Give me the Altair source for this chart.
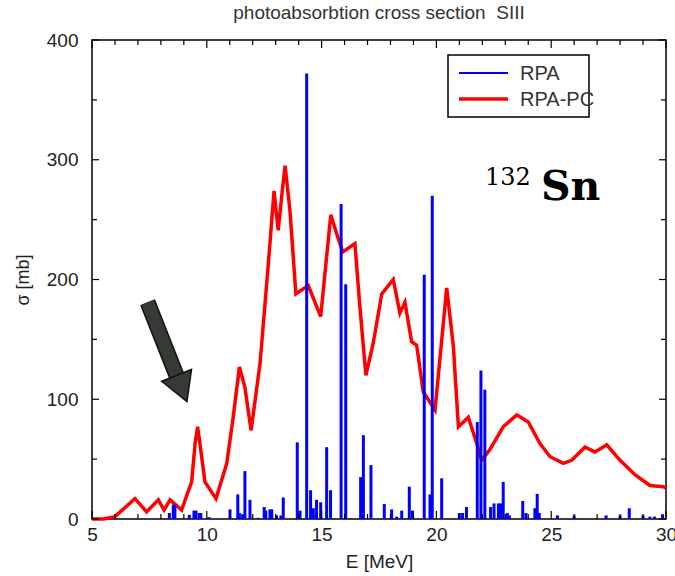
import altair as alt
import pandas as pd

# ---------------- data ----------------
# RPA-PC (red curve): energy [MeV] and cross section [mb]
E_PC = [5.0, 5.5, 6.0, 6.87, 7.38, 7.89, 8.14, 8.40, 8.90, 9.34, 9.49, 9.60, 9.70, 9.92,
        10.40, 10.87, 11.15, 11.42, 11.66, 11.93, 12.32, 12.68, 12.93, 13.11, 13.26, 13.41,
        13.62, 13.88, 14.42, 14.96, 15.40, 15.66, 15.92, 16.45, 16.67, 16.93, 17.25, 17.62,
        18.12, 18.41, 18.63, 18.92, 19.14, 19.43, 19.94, 20.45, 20.74, 20.96, 21.39, 21.76,
        21.97, 22.33, 22.91, 23.50, 24.00, 24.51, 24.95, 25.53, 25.89, 26.47, 26.91, 27.42,
        28.00, 28.65, 29.30, 29.88, 30.00]
SIGMA_PC = [0, 0, 2, 17, 6, 16, 7.5, 16, 7.5, 31, 63, 77, 63, 31,
            17, 46.5, 85, 127, 110, 74, 130, 213, 274, 241, 269, 295,
            258, 188, 195, 169, 254, 238, 223, 230, 177, 120, 147, 188,
            200, 172, 181, 148, 145, 106, 91, 193, 144, 77, 85, 63,
            49, 58, 77, 87, 81, 63, 52, 46.5, 49, 60, 56, 62,
            49, 37, 28, 27, 26]

# RPA (blue discrete strengths)
E_RPA = [8.37, 8.54, 8.61, 9.24, 9.44, 9.53, 9.67, 9.74, 10.10, 11.01, 11.35, 11.42, 11.56,
         11.66, 11.88, 12.24, 12.50, 12.57, 12.75, 12.83, 13.04, 13.23, 13.33, 13.94, 14.06,
         14.35, 14.52, 14.64, 14.78, 14.96, 15.22, 15.39, 15.85, 16.05, 16.70, 16.82, 17.15,
         17.73, 18.05, 18.27, 18.49, 18.82, 18.96, 19.47, 19.72, 19.82, 20.23, 21.00, 21.14,
         21.31, 21.78, 21.94, 22.11, 22.36, 22.51, 22.70, 22.80, 22.91, 23.09, 23.18, 23.76,
         23.90, 24.29, 24.39, 24.48, 25.27, 26.00, 27.39, 28.00, 28.40, 29.00, 29.30, 29.50,
         29.85]
SIGMA_RPA = [5, 12, 12, 3.5, 7, 7, 5, 5, 1.5, 8, 20.6, 5, 4,
             40, 16, 1, 10, 7, 8, 8, 3, 3, 18, 64, 7,
             372, 24, 9, 16, 14, 60, 24, 263, 196, 35, 70, 45,
             12.5, 8, 2, 7, 27, 7, 204, 20.6, 270, 34, 5, 5,
             10, 81, 124, 108, 10, 13, 13, 13, 31, 5, 3, 15,
             5, 9, 21, 5, 3, 3, 3, 3, 9, 3, 2, 2,
             4]

X_TICKS_MAJOR = [5, 10, 15, 20, 25, 30]
X_TICKS_MINOR = [6, 7, 8, 9, 11, 12, 13, 14, 16, 17, 18, 19, 21, 22, 23, 24, 26, 27, 28, 29]
Y_TICKS_MAJOR = [0, 100, 200, 300, 400]
Y_TICKS_MINOR = [50, 150, 250, 350]

LEGEND_LABELS = ["RPA", "RPA-PC"]
TITLE = "photoabsorbtion cross section\u00a0 SIII"
NUCLEUS_MASS = "132"
NUCLEUS_SYMBOL = "Sn"

# arrow annotation (data coordinates): tail -> head base, head centre
ARROW_E = [7.42, 8.72]
ARROW_SIGMA = [181, 118]
ARROW_HEAD_E = [8.91]
ARROW_HEAD_SIGMA = [109]

# ---------------- layout ----------------
W, H = 574, 479
FONT = "Liberation Sans"
TXT = "#222222"
xs = alt.Scale(domain=[5, 30], nice=False, zero=False)
ys = alt.Scale(domain=[0, 400], nice=False)

X_AX = alt.Axis(values=X_TICKS_MAJOR, ticks=False, domain=False, grid=False,
                labelFontSize=19, labelFont=FONT, labelColor=TXT, labelPadding=6,
                labelFlush=False, labelOverlap=False,
                title="E [MeV]", titleFont=FONT, titleFontSize=19,
                titleFontWeight="normal", titleColor=TXT, titlePadding=8)
Y_AX = alt.Axis(values=Y_TICKS_MAJOR, ticks=False, domain=False, grid=False,
                labelFontSize=19, labelFont=FONT, labelColor=TXT, labelPadding=14,
                labelOverlap=False,
                title="σ [mb]", titleFont=FONT, titleFontSize=18,
                titleFontWeight="normal", titleColor=TXT, titlePadding=14)


def X(field):
    return alt.X(field, type="quantitative", scale=xs, axis=X_AX)


def Y(field):
    return alt.Y(field, type="quantitative", scale=ys, axis=Y_AX)


pc = pd.DataFrame({"E": E_PC, "sigma": SIGMA_PC})
rpa = pd.DataFrame({"E": E_RPA, "sigma": SIGMA_RPA, "zero": [0] * len(E_RPA)})
xmaj = pd.DataFrame({"E": X_TICKS_MAJOR})
xmin = pd.DataFrame({"E": X_TICKS_MINOR})
ymaj = pd.DataFrame({"sigma": Y_TICKS_MAJOR})
ymin = pd.DataFrame({"sigma": Y_TICKS_MINOR})
one = pd.DataFrame({"k": [0]})

red = alt.Chart(pc).mark_line(color="#ff0000", strokeWidth=3.5, strokeJoin="miter").encode(
    x=X("E"), y=Y("sigma"))

blue = alt.Chart(rpa).mark_rule(color="#0000ff", strokeWidth=3, strokeCap="butt").encode(
    x=X("E"), y=Y("sigma"), y2="zero:Q")


def xticks(df, length):
    bottom = alt.Chart(df).mark_rule(color="black", strokeWidth=1.2).encode(
        x=X("E"), y=alt.value(H), y2=alt.value(H - length))
    top = alt.Chart(df).mark_rule(color="black", strokeWidth=1.2).encode(
        x=X("E"), y=alt.value(0), y2=alt.value(length))
    return [bottom, top]


def yticks(df, length):
    left = alt.Chart(df).mark_rule(color="black", strokeWidth=1.2).encode(
        y=Y("sigma"), x=alt.value(0), x2=alt.value(length))
    right = alt.Chart(df).mark_rule(color="black", strokeWidth=1.2).encode(
        y=Y("sigma"), x=alt.value(W - length), x2=alt.value(W))
    return [left, right]


ticks = xticks(xmaj, 8) + xticks(xmin, 5) + yticks(ymaj, 7) + yticks(ymin, 5)

# legend
leg_box = alt.Chart(one).mark_rect(fill="white", stroke="black", strokeWidth=1.5).encode(
    x=alt.value(356), x2=alt.value(497), y=alt.value(15), y2=alt.value(77))
leg_blue = alt.Chart(one).mark_rule(color="#0000ff", strokeWidth=2).encode(
    x=alt.value(367), x2=alt.value(416), y=alt.value(33))
leg_red = alt.Chart(one).mark_rule(color="#ff0000", strokeWidth=3.5).encode(
    x=alt.value(367), x2=alt.value(416), y=alt.value(59))
leg_t1 = alt.Chart(one).mark_text(align="left", baseline="middle", font=FONT, fontSize=20,
                                  color="#333333").encode(
    x=alt.value(428), y=alt.value(34), text=alt.value(LEGEND_LABELS[0]))
leg_t2 = alt.Chart(one).mark_text(align="left", baseline="middle", font=FONT, fontSize=20,
                                  color="#333333").encode(
    x=alt.value(428), y=alt.value(60), text=alt.value(LEGEND_LABELS[1]))

# nucleus label
lab_mass = alt.Chart(one).mark_text(align="left", baseline="alphabetic", font="DejaVu Serif",
                                    fontSize=24, color="black").encode(
    x=alt.value(393), y=alt.value(145), text=alt.value(NUCLEUS_MASS))
lab_sym = alt.Chart(one).mark_text(align="left", baseline="alphabetic", font="DejaVu Serif",
                                   fontSize=41, fontWeight="bold", color="black").encode(
    x=alt.value(449), y=alt.value(160), text=alt.value(NUCLEUS_SYMBOL))

# arrow
arrow_df = pd.DataFrame({"E": [ARROW_E[0]], "sigma": [ARROW_SIGMA[0]],
                         "E2": [ARROW_E[1]], "sigma2": [ARROW_SIGMA[1]]})
head_df = pd.DataFrame({"E": ARROW_HEAD_E, "sigma": ARROW_HEAD_SIGMA})
shaft_o = alt.Chart(arrow_df).mark_rule(color="#111111", strokeWidth=16, strokeCap="butt").encode(
    x=X("E"), y=Y("sigma"), x2="E2:Q", y2="sigma2:Q")
shaft = alt.Chart(arrow_df).mark_rule(color="#353a35", strokeWidth=13, strokeCap="butt").encode(
    x=X("E"), y=Y("sigma"), x2="E2:Q", y2="sigma2:Q")
head = alt.Chart(head_df).mark_point(
    shape="M -1 -0.88 L 1 -0.88 L 0 0.88 Z", size=1024, filled=True, fill="#353a35",
    stroke="#111111", strokeWidth=1.5, opacity=1, fillOpacity=1, angle=338.5).encode(
    x=X("E"), y=Y("sigma"))

chart = alt.layer(red, blue, *ticks, shaft_o, shaft, head,
                  leg_box, leg_blue, leg_red, leg_t1, leg_t2, lab_mass, lab_sym).properties(
    width=W, height=H,
    autosize=alt.AutoSizeParams(type="none"),
    padding={"left": 92, "top": 40, "right": 9, "bottom": 57},
    background="white",
    title=alt.TitleParams(TITLE, font=FONT, fontSize=19, fontWeight="normal", color="#333333",
                          anchor="middle", offset=8),
).configure_view(stroke="black", strokeWidth=1.5)

chart.save("out.html", embed_options={"renderer": "svg", "actions": False})
